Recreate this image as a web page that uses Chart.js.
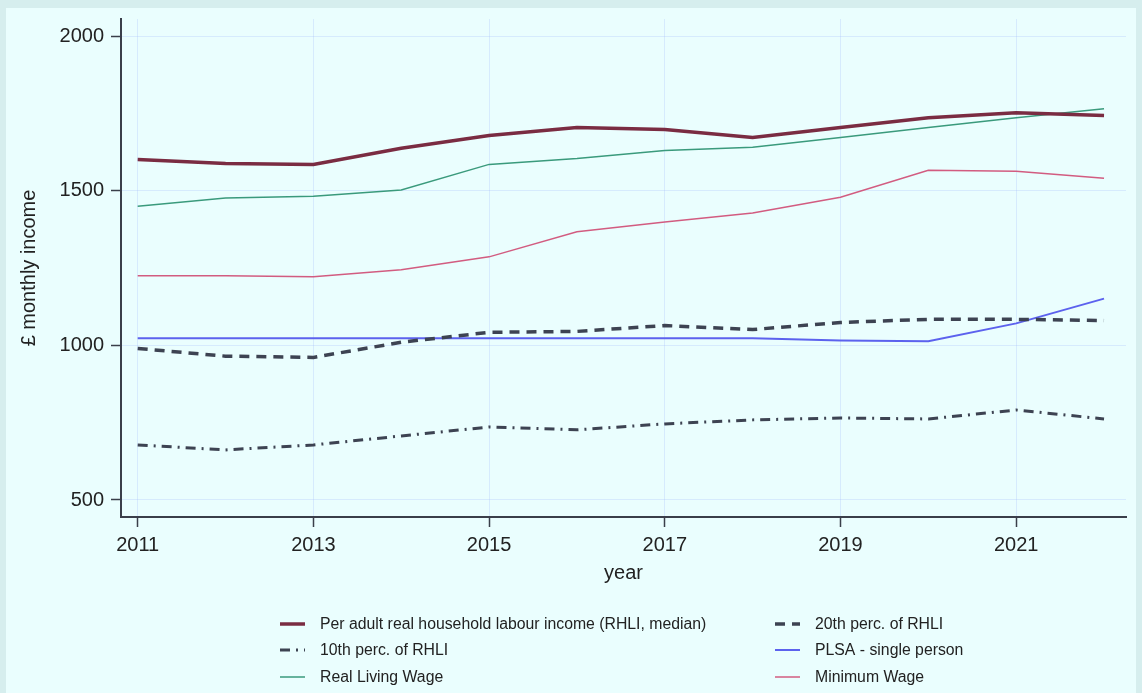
<!DOCTYPE html>
<html>
<head>
<meta charset="utf-8">
<script src="https://cdn.jsdelivr.net/npm/chart.js@4"></script>
<style>
  html, body { margin: 0; padding: 0; background: #d6eeee; }
  #wrap { width: 1142px; height: 693px; position: relative; }
</style>
</head>
<body>
<div id="wrap"><canvas id="chart" width="1142" height="693"></canvas></div>
<script>
// Years on the x axis and the series values (GBP per month)
var years = [2011, 2012, 2013, 2014, 2015, 2016, 2017, 2018, 2019, 2020, 2021, 2022];
var medianRHLI = [1601, 1588, 1585, 1637, 1678, 1704, 1698, 1672, 1704, 1736, 1752, 1743];
var p20RHLI = [990, 965, 961, 1010, 1042, 1045, 1064, 1051, 1074, 1084, 1084, 1080];
var p10RHLI = [678, 662, 678, 707, 736, 727, 746, 759, 765, 762, 791, 762];
var plsaSingle = [1023, 1023, 1023, 1023, 1023, 1023, 1023, 1023, 1016, 1013, 1071, 1151];
var realLivingWage = [1450, 1476, 1482, 1502, 1585, 1604, 1630, 1640, 1672, 1704, 1736, 1765];
var minimumWage = [1225, 1225, 1222, 1244, 1286, 1367, 1399, 1428, 1479, 1566, 1563, 1540];

var xTicks = [2011, 2013, 2015, 2017, 2019, 2021];
var yTicks = [500, 1000, 1500, 2000];

var FONT = '"Liberation Sans", Arial, sans-serif';
var AXIS = '#3a3f4a';
var GRID = 'rgba(160, 185, 250, 0.28)';

function pts(vals) {
  return vals.map(function (v, i) { return { x: years[i], y: v }; });
}

// Frame + panel background
var panelBg = {
  id: 'panelBg',
  beforeDraw: function (chart) {
    var ctx = chart.ctx;
    ctx.save();
    ctx.fillStyle = '#d6eeee';
    ctx.fillRect(0, 0, chart.width, chart.height);
    ctx.fillStyle = '#eafefe';
    ctx.fillRect(6, 8, chart.width - 12, chart.height - 8);
    ctx.restore();
  }
};

// Two-column legend under the plot
var gridLegend = {
  id: 'gridLegend',
  afterDraw: function (chart) {
    var ctx = chart.ctx;
    var colX = [280, 775];
    var rowY = [624, 650, 677];
    ctx.save();
    ctx.font = '15.8px ' + FONT;
    ctx.textBaseline = 'middle';
    ctx.textAlign = 'left';
    chart.data.datasets.forEach(function (ds, k) {
      var x = colX[k % 2];
      var y = rowY[Math.floor(k / 2)];
      ctx.strokeStyle = ds.borderColor;
      ctx.lineWidth = ds.borderWidth;
      ctx.setLineDash(ds.borderDash || []);
      ctx.beginPath();
      ctx.moveTo(x, y);
      ctx.lineTo(x + 25, y);
      ctx.stroke();
      ctx.setLineDash([]);
      ctx.fillStyle = '#222';
      ctx.fillText(ds.label, x + 40, y + 1);
    });
    ctx.restore();
  }
};

new Chart(document.getElementById('chart'), {
  type: 'line',
  data: {
    datasets: [
      {
        label: 'Per adult real household labour income (RHLI, median)',
        data: pts(medianRHLI),
        borderColor: '#7a2c42',
        borderWidth: 3.5
      },
      {
        label: '20th perc. of RHLI',
        data: pts(p20RHLI),
        borderColor: '#3d4352',
        borderWidth: 3.5,
        borderDash: [10, 7]
      },
      {
        label: '10th perc. of RHLI',
        data: pts(p10RHLI),
        borderColor: '#3d4352',
        borderWidth: 3,
        borderDash: [10, 6, 2, 6]
      },
      {
        label: 'PLSA - single person',
        data: pts(plsaSingle),
        borderColor: '#5c62ee',
        borderWidth: 2
      },
      {
        label: 'Real Living Wage',
        data: pts(realLivingWage),
        borderColor: '#3a9a7c',
        borderWidth: 1.5
      },
      {
        label: 'Minimum Wage',
        data: pts(minimumWage),
        borderColor: '#d25c80',
        borderWidth: 1.5
      }
    ]
  },
  options: {
    responsive: false,
    animation: false,
    parsing: false,
    elements: {
      point: { radius: 0, hoverRadius: 0 },
      line: { tension: 0, fill: false }
    },
    layout: { padding: { left: 0, top: 17, right: 16, bottom: 100 } },
    plugins: {
      legend: { display: false },
      tooltip: { enabled: false }
    },
    scales: {
      x: {
        type: 'linear',
        min: 2010.81,
        max: 2022.25,
        afterBuildTicks: function (s) { s.ticks = xTicks.map(function (v) { return { value: v }; }); },
        afterFit: function (s) { s.height = 76; },
        ticks: {
          callback: function (v) { return String(v); },
          color: '#222',
          padding: 6,
          font: { family: FONT, size: 20 },
          maxRotation: 0
        },
        grid: { color: GRID, lineWidth: 1, tickColor: AXIS, tickLength: 10, tickWidth: 1.5 },
        border: { color: AXIS, width: 2 },
        title: {
          display: true,
          text: 'year',
          color: '#222',
          font: { family: FONT, size: 20 },
          padding: { top: 0, bottom: 8 }
        }
      },
      y: {
        min: 445,
        max: 2055,
        afterBuildTicks: function (s) { s.ticks = yTicks.map(function (v) { return { value: v }; }); },
        afterFit: function (s) { s.width = 121; },
        ticks: {
          callback: function (v) { return String(v); },
          color: '#222',
          padding: 7,
          font: { family: FONT, size: 20 }
        },
        grid: { color: GRID, lineWidth: 1, tickColor: AXIS, tickLength: 10, tickWidth: 1.5 },
        border: { color: AXIS, width: 2 },
        title: {
          display: true,
          text: '£ monthly income',
          color: '#222',
          font: { family: FONT, size: 20 },
          padding: { top: 17, bottom: 0 }
        }
      }
    }
  },
  plugins: [panelBg, gridLegend]
});
</script>
</body>
</html>
